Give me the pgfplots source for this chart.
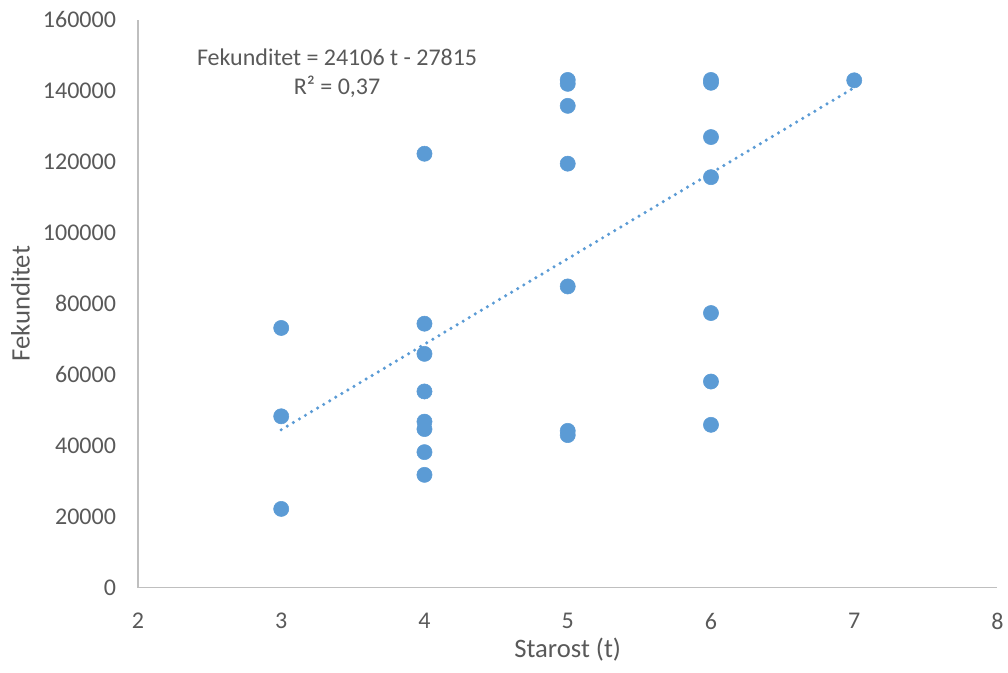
\documentclass[border=0pt]{standalone}
\usepackage{fontspec}
\setmainfont{Carlito}
\usepackage{pgfplots}
\pgfplotsset{compat=1.18}
\definecolor{pt}{HTML}{5B9BD5}
\definecolor{txt}{HTML}{595959}
\definecolor{ax}{HTML}{BFBFBF}
\begin{document}
\begin{tikzpicture}
\begin{axis}[
  scale only axis,
  width=645pt, height=426pt,
  xmin=2, xmax=8, ymin=0, ymax=160000,
  xtick={2,3,...,8},
  ytick={0,20000,...,160000},
  scaled ticks=false,
  /pgf/number format/fixed,
  /pgf/number format/1000 sep={},
  /pgf/number format/assume math mode=true,
  axis x line*=bottom, axis y line*=left,
  axis line style={ax, line width=1.1pt, -},
  major tick length=0pt,
  tick label style={font=\fontsize{18}{21}\selectfont, text=txt},
  xticklabel style={yshift=-15.5pt},
  yticklabel style={xshift=-13pt},
  xlabel={Starost (t)}, ylabel={Fekunditet},
  label style={font=\fontsize{20}{24}\selectfont, text=txt},
  xlabel style={at={(axis description cs:0.5,-0.109)}, anchor=center},
  ylabel style={at={(axis description cs:-0.1366,0.5)}, anchor=center},
  clip=false,
]
\path (rel axis cs:-0.1605,-0.1496) rectangle (rel axis cs:1.0116,1.0352);
\addplot[only marks, mark=*, mark size=5.7pt, mark options={draw=pt, fill=pt}] coordinates {
(3,73200) (3,48300) (3,22200)
(4,122300) (4,74400) (4,65900) (4,55300) (4,46800) (4,44700) (4,38200) (4,31800)
(5,143100) (5,142000) (5,135800) (5,119500) (5,84900) (5,44200) (5,43000)
(6,143100) (6,142300) (6,127000) (6,115700) (6,77400) (6,58100) (6,45900)
(7,143000)
};
\addplot[pt, line width=2.6pt, line cap=round, dash pattern=on 0pt off 5.3pt] coordinates {
(3,44503) (7,140927)
};
\node[align=center, text=txt, font=\fontsize{18}{21.75}\selectfont] at (axis cs:3.39,145000) {Fekunditet = 24106 t - 27815\\R² = 0,37};
\end{axis}
\end{tikzpicture}
\end{document}
